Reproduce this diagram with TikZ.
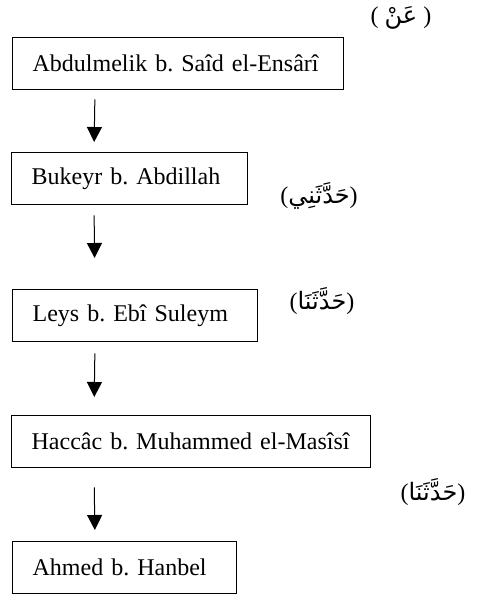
\documentclass[tikz,border=0pt]{standalone}
\usepackage{fontspec}
\setmainfont{Liberation Serif}
\newfontfamily\arabicfont[Script=Arabic]{DejaVu Sans}
\TeXXeTstate=1
\usetikzlibrary{arrows, arrows.meta}
\newcommand{\arb}[1]{{\arabicfont\beginR #1\endR}}
\frenchspacing

\begin{document}
\begin{tikzpicture}[x=1pt, y=1pt,
    ravi/.style={draw, line width=1.3pt, anchor=north west, minimum height=52pt,
      inner xsep=20pt, align=left, font=\fontsize{24}{27}\selectfont,
      execute at begin node={\hyphenpenalty=10000}},
    sigha/.style={font=\fontsize{24}{27}\selectfont, inner sep=0pt},
    chain/.style={line width=1pt, -{Triangle[width=15pt, length=15pt]}}]
  \useasboundingbox (0,0) rectangle (477,-596);

  % Narrators
  \node[ravi, text width=291pt] (b1) at (12,-37) {Abdulmelik b. Saîd el-Ensârî};
  \node[ravi, text width=196pt] (b2) at (11,-152) {Bukeyr b. Abdillah};
  \node[ravi, text width=205pt] (b3) at (12,-289) {Leys b. Ebî Suleym};
  \node[ravi, text width=319pt] (b4) at (11,-415) {Haccâc b. Muhammed el-Masîsî};
  \node[ravi, text width=184pt] (b5) at (12,-541) {Ahmed b. Hanbel};

  % Transmission words
  \node[sigha] (s1) at (401,-18) {( \arb{عَنْ} )};
  \node[sigha] (s2) at (319,-196) {(\arb{حَدَّثَنِي})};
  \node[sigha] (s3) at (322,-301) {(\arb{حَدَّثَنَا})};
  \node[sigha] (s4) at (433,-492) {(\arb{حَدَّثَنَا})};

  % Arrows
  \draw[chain, shorten <=9pt, shorten >=10pt] ([xshift=83pt]b1.south west) -- ([xshift=83pt]b2.north west);
  \draw[chain, shorten <=10pt, shorten >=31pt] ([xshift=83pt]b2.south west) -- ([xshift=83pt]b3.north west);
  \draw[chain, shorten <=11pt, shorten >=18pt] ([xshift=83pt]b3.south west) -- ([xshift=83pt]b4.north west);
  \draw[chain, shorten <=19pt, shorten >=11pt] ([xshift=83pt]b4.south west) -- ([xshift=83pt]b5.north west);
\end{tikzpicture}
\end{document}
